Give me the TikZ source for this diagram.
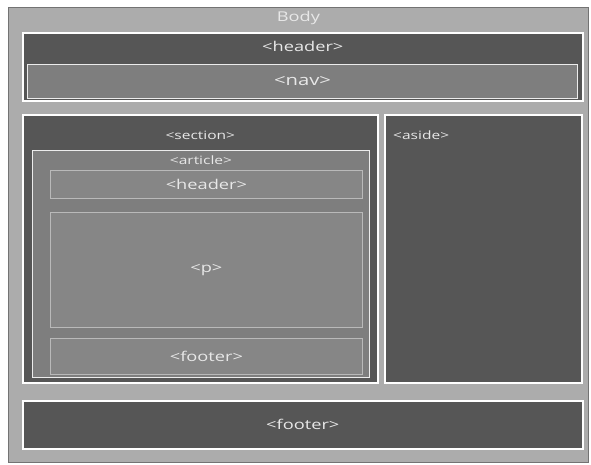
\documentclass[tikz,border=0pt]{standalone}
\usepackage{fontspec}
\setmainfont{Open Sans}[FakeStretch=1.35]
\usetikzlibrary{positioning}

\definecolor{bodygray}{RGB}{172,172,172}
\definecolor{darkgray}{RGB}{86,86,86}
\definecolor{midgray}{RGB}{126,126,126}
\definecolor{innergray}{RGB}{134,134,134}
\definecolor{tagwhite}{RGB}{232,232,232}

\begin{document}
\begin{tikzpicture}[
  x=1pt, y=-1pt,
  font=\fontsize{13.5}{15}\selectfont,
  box/.style={
    rectangle,
    anchor=north west,
    inner sep=0pt,
  },
  outerbox/.style={box, fill=darkgray, draw=white, line width=1.6pt},
  midbox/.style={box, fill=midgray, draw=white!85!gray, line width=1pt},
  innerbox/.style={box, fill=innergray, draw=white!45!gray, line width=0.8pt},
  tag/.style={text=tagwhite, inner sep=0pt},
  smalltag/.style={tag, font=\fontsize{11.5}{13}\selectfont},
]
\useasboundingbox[fill=white] (0,0) rectangle (591,465);

% --- Body ---
\node[box, fill=bodygray, draw=black!55, line width=0.8pt,
  minimum width=580pt, minimum height=455pt] (body) at (8,7) {};
\node[tag, yshift=-10.5pt] (bodytxt) at (body.north) {Body};

% --- header + nav ---
\node[outerbox, minimum width=560pt, minimum height=68pt] (header) at (22,32) {};
\node[tag, yshift=-14.5pt] (headertxt) at (header.north) {<header>};
\node[midbox, minimum width=550pt, minimum height=34pt] (nav) at (27,64) {};
\node[tag, font=\fontsize{15}{17}\selectfont] (navtxt) at (nav.center) {<nav>};

% --- section ---
\node[outerbox, minimum width=355pt, minimum height=268pt] (section) at (22,114) {};
\node[smalltag, yshift=-21pt] (sectiontxt) at (section.north) {<section>};

% --- article ---
\node[midbox, minimum width=337pt, minimum height=227pt] (article) at (32,150) {};
\node[smalltag, yshift=-10pt] (articletxt) at (article.north) {<article>};
\node[innerbox, minimum width=312pt, minimum height=28pt] (artheader) at (50,170) {};
\node[tag] (artheadertxt) at (artheader.center) {<header>};
\node[innerbox, minimum width=312pt, minimum height=115pt] (para) at (50,212) {};
\node[tag] (paratxt) at (para.center) {<p>};
\node[innerbox, minimum width=312pt, minimum height=36pt] (artfooter) at (50,338) {};
\node[tag] (artfootertxt) at (artfooter.center) {<footer>};

% --- aside ---
\node[outerbox, minimum width=197pt, minimum height=268pt] (aside) at (384,114) {};
\node[smalltag, anchor=west, xshift=9pt, yshift=-21pt] (asidetxt) at (aside.north west) {<aside>};

% --- footer ---
\node[outerbox, minimum width=560pt, minimum height=48pt] (footer) at (22,400) {};
\node[tag] (footertxt) at (footer.center) {<footer>};
\end{tikzpicture}
\end{document}
